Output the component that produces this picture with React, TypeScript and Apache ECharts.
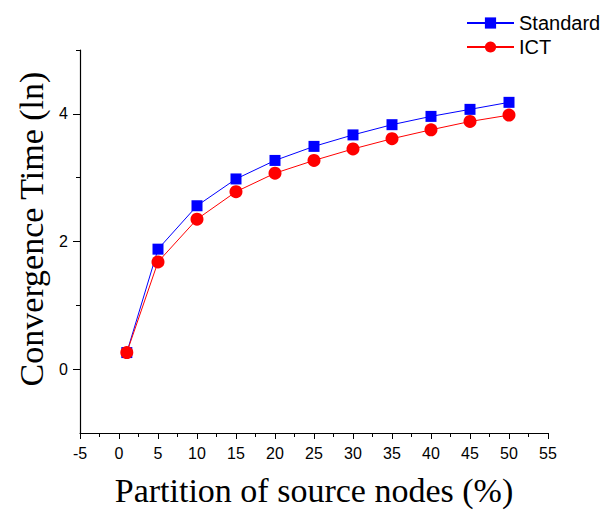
import React, { useEffect, useRef } from "react";
import * as echarts from "echarts";

const xValues = [1, 5, 10, 15, 20, 25, 30, 35, 40, 45, 50];
const standardValues = [0.26, 1.88, 2.56, 2.98, 3.27, 3.49, 3.67, 3.83, 3.96, 4.07, 4.18];
const ictValues = [0.26, 1.68, 2.35, 2.78, 3.07, 3.27, 3.45, 3.61, 3.75, 3.88, 3.98];
const seriesNames = ["Standard", "ICT"];
const yMajorTicks = [0, 2, 4];
const yMinorTicks = [1, 3, 5];
const xTitle = "Partition of source nodes (%)";
const yTitle = "Convergence Time (ln)";

export default function App() {
  const ref = useRef<HTMLDivElement>(null);
  useEffect(() => {
    if (!ref.current) return;
    const chart = echarts.init(ref.current, null, { renderer: "svg" });
    const sans = "'Liberation Sans', Arial, sans-serif";
    const serif = "'Liberation Serif', 'Times New Roman', serif";
    chart.setOption({
      animation: false,
      backgroundColor: "#ffffff",
      grid: { left: 80, right: 61, top: 50, bottom: 77, containLabel: false, outerBoundsMode: "none" },
      legend: {
        orient: "vertical",
        left: 466,
        top: 13,
        padding: 0,
        itemWidth: 47,
        itemHeight: 14,
        itemGap: 4,
        textStyle: { fontFamily: sans, fontSize: 20, color: "#000" },
        data: seriesNames,
      },
      xAxis: {
        type: "value",
        min: -5,
        max: 55,
        interval: 5,
        axisLine: { onZero: false, lineStyle: { color: "#000", width: 1.2 } },
        axisTick: { length: 6, lineStyle: { color: "#000" } },
        minorTick: { show: true, splitNumber: 2, length: 4, lineStyle: { color: "#000" } },
        splitLine: { show: false },
        minorSplitLine: { show: false },
        axisLabel: { fontFamily: sans, fontSize: 16, color: "#000", margin: 12 },
      },
      yAxis: [
        {
          type: "value",
          min: -1,
          max: 5,
          interval: 1,
          axisLine: { show: true, onZero: false, lineStyle: { color: "#000", width: 1.2 } },
          axisTick: { show: true, length: 7, customValues: yMajorTicks, lineStyle: { color: "#000" } },
          axisLabel: { fontFamily: sans, fontSize: 16, color: "#000", margin: 12, customValues: yMajorTicks },
          splitLine: { show: false },
        },
        {
          type: "value",
          position: "left",
          min: -1,
          max: 5,
          interval: 1,
          axisLine: { show: false, onZero: false },
          axisTick: { show: true, length: 4, customValues: yMinorTicks, lineStyle: { color: "#000" } },
          axisLabel: { show: false },
          splitLine: { show: false },
        },
      ],
      graphic: [
        {
          type: "text",
          x: 314,
          y: 490,
          style: { text: xTitle, font: `34px ${serif}`, fill: "#000", textAlign: "center", textVerticalAlign: "middle" },
        },
        {
          type: "text",
          x: 31,
          y: 229,
          rotation: Math.PI / 2,
          style: { text: yTitle, font: `34px ${serif}`, fill: "#000", textAlign: "center", textVerticalAlign: "middle" },
        },
      ],
      series: [
        {
          name: seriesNames[0],
          type: "line",
          data: xValues.map((x, i) => [x, standardValues[i]]),
          symbol: "rect",
          symbolSize: 11,
          color: "#0000ff",
          lineStyle: { width: 1, color: "#0000ff" },
          itemStyle: { color: "#0000ff" },
        },
        {
          name: seriesNames[1],
          type: "line",
          data: xValues.map((x, i) => [x, ictValues[i]]),
          symbol: "circle",
          symbolSize: 13,
          color: "#ff0000",
          lineStyle: { width: 1, color: "#ff0000" },
          itemStyle: { color: "#ff0000" },
        },
      ],
    });
    return () => chart.dispose();
  }, []);
  return <div ref={ref} style={{ position: "fixed", left: 0, top: 0, width: 609, height: 510 }} />;
}
